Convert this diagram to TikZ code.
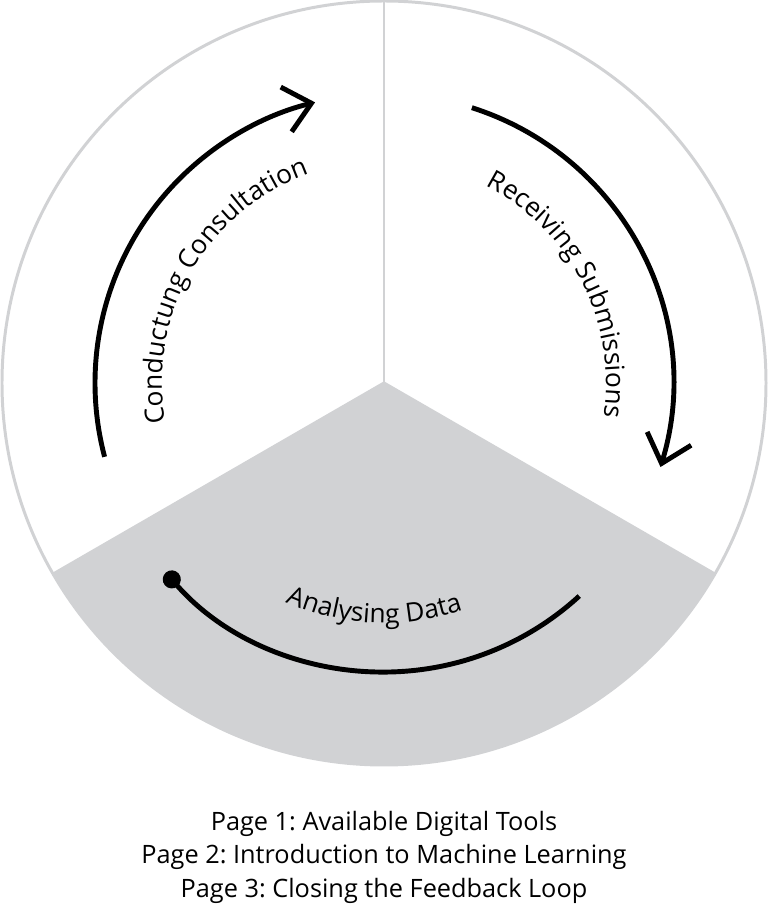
\documentclass[tikz,border=0pt]{standalone}
\usepackage{fontspec}
\setmainfont{Open Sans}
\usepackage{xcolor}
\usetikzlibrary{arrows.meta,decorations.text}
\definecolor{ringgray}{HTML}{D1D2D4}
\frenchspacing
\newcommand{\arcfont}{\fontsize{15}{17}\selectfont}
\tikzset{
  ring/.style={draw=ringgray, line width=1.7pt},
  flowarc/.style={draw=black, line width=2.8pt},
  chevron/.style={-{Straight Barb[length=5.2mm,width=9.2mm]}},
  arclabel/.style={decorate, decoration={text along path, text align=center, text={#1}}},
  caption/.style={anchor=base, font=\fontsize{14.4}{16}\selectfont}
}

\begin{document}
\begin{tikzpicture}[x=0.02cm,y=0.02cm]
  \useasboundingbox (-384,-539) rectangle (384,383);

  % wheel with the shaded third
  \fill[ringgray] (0,0) -- (210:382) arc[start angle=210, end angle=330, radius=382] -- cycle;
  \draw[ring] (0,0) circle[radius=382];
  \foreach \a in {90,210,330}{
    \draw[ring] (0,0) -- (\a:382);
  }

  % the three stages
  \draw[flowarc,chevron] (194.8:289) arc[start angle=194.8, end angle=103.8, radius=289];
  \draw[flowarc,chevron] (72.3:289) arc[start angle=72.3, end angle=-16.9, radius=289];
  \draw[flowarc,{Circle[length=3.6mm]}-] (221:289) arc[start angle=221, end angle=312.5, radius=289];

  \path[arclabel={|\arcfont|Conductung Consultation}] (190:222) arc[start angle=190, end angle=110, radius=222];
  \path[arclabel={|\arcfont|Receiving Submissions}] (67:222) arc[start angle=67, end angle=-13, radius=222];
  \path[arclabel={|\arcfont|Analysing Data}] (240:240) arc[start angle=240, end angle=295, radius=240];

  % page list
  \node[caption] (page1) at (0,-447) {Page 1: Available Digital Tools};
  \node[caption] (page2) at (0,-480) {Page 2: Introduction to Machine Learning};
  \node[caption] (page3) at (0,-514) {Page 3: Closing the Feedback Loop};
\end{tikzpicture}
\end{document}
